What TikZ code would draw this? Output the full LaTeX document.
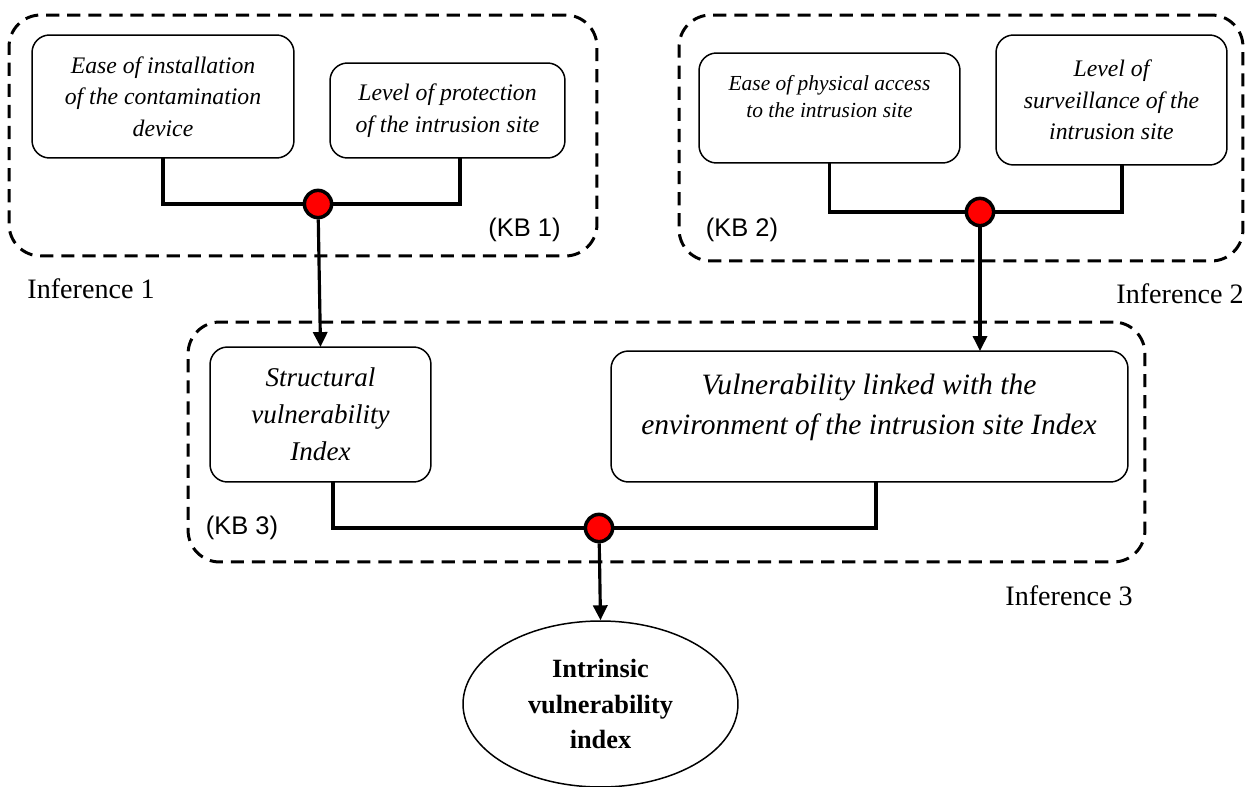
\documentclass[tikz,border=0pt]{standalone}
\usepackage{fontspec}
\setmainfont{Liberation Serif}
\newfontfamily\kbfont{Liberation Sans}
\usepackage{tikz}
\usetikzlibrary{shapes.geometric, arrows.meta, positioning, calc}
\definecolor{fusered}{RGB}{255,0,0}

\begin{document}
\begin{tikzpicture}[x=0.02cm, y=-0.02cm,
    factor/.style={rectangle, rounded corners=10pt, draw, line width=0.85pt, inner sep=0pt, outer sep=0pt, align=center, font=\fontsize{13.5}{18}\selectfont\itshape},
    factortext/.style={inner sep=0pt, align=center},
    kbgroup/.style={rectangle, rounded corners=18pt, draw, line width=1.7pt, dash pattern=on 7.5pt off 4.5pt, inner sep=0pt},
    fuse/.style={circle, draw, fill=fusered, line width=2pt, minimum size=15.5pt, inner sep=0pt},
    link/.style={line width=2pt},
    flow/.style={line width=1.8pt, -{Triangle[length=8.5pt, width=8pt]}},
    kbtag/.style={font=\kbfont\fontsize{14.5}{17}\selectfont},
    inftag/.style={font=\fontsize{16}{19}\selectfont}]
    \useasboundingbox (0,0) rectangle (1254,787);

    % Knowledge bases
    \node[kbgroup, minimum width=11.76cm, minimum height=4.82cm] (kb1) at (303,135.5) {};
    \node[kbgroup, minimum width=11.28cm, minimum height=4.92cm] (kb2) at (961,138) {};
    \node[kbgroup, minimum width=19.14cm, minimum height=4.8cm] (kb3) at (666.5,442) {};

    % Input criteria
    \node[factor, minimum width=5.24cm, minimum height=2.46cm] (install) at (163,96.5) {Ease of installation\\of the contamination\\device};
    \node[factor, minimum width=4.7cm, minimum height=1.9cm] (protect) at (447.5,110.5) {Level of protection\\of the intrusion site};
    \node[factor, minimum width=5.22cm, minimum height=2.2cm] (access) at (829.5,108) {};
    \node[factortext, font=\fontsize{12.2}{15.3}\selectfont\itshape] (accesstxt) at (829.5,97) {Ease of physical access\\to the intrusion site};
    \node[factor, minimum width=4.62cm, minimum height=2.6cm] (watch) at (1111.5,100) {Level of\\surveillance of the\\intrusion site};

    % Intermediate indices
    \node[factor, minimum width=4.42cm, minimum height=2.7cm, font=\fontsize{15.4}{21}\selectfont\itshape] (struct) at (320.5,414.5) {Structural\\vulnerability\\Index};
    \node[factor, minimum width=10.34cm, minimum height=2.62cm] (envir) at (869.5,416.5) {};
    \node[factortext, font=\fontsize{16.8}{22.7}\selectfont\itshape] (envirtxt) at (869,407) {Vulnerability linked with the\\environment of the intrusion site Index};

    % Final index
    \node[ellipse, draw, line width=0.85pt, minimum width=5.5cm, minimum height=3.32cm, inner sep=0pt, align=center, font=\fontsize{15}{20}\selectfont\bfseries] (result) at (600.5,704) {Intrinsic\\vulnerability\\index};

    % Fusion points
    \node[fuse] (f1) at (318,204) {};
    \node[fuse] (f2) at (980,212) {};
    \node[fuse] (f3) at (599,528) {};

    \draw[link] (install.south) |- (f1) -| ($(protect.south)+(12.5,0)$);
    \draw[link] (access.south) |- (f2) -| ($(watch.south)+(10.5,0)$);
    \draw[link] ($(struct.south)+(12.5,0)$) |- (f3) -| ($(envir.south)+(6.5,0)$);

    \draw[flow] (f1) -- (struct.north);
    \draw[flow] (f2) -- (f2 |- envir.north);
    \draw[flow] (f3) -- (result.north);

    % Labels
    \node[kbtag] (kb1tag) at (524.5,230) {(KB 1)};
    \node[kbtag] (kb2tag) at (742,230) {(KB 2)};
    \node[kbtag] (kb3tag) at (242,528) {(KB 3)};
    \node[inftag] (inf1) at (91,289) {Inference 1};
    \node[inftag] (inf2) at (1180,294) {Inference 2};
    \node[inftag] (inf3) at (1069,596) {Inference 3};
\end{tikzpicture}
\end{document}
